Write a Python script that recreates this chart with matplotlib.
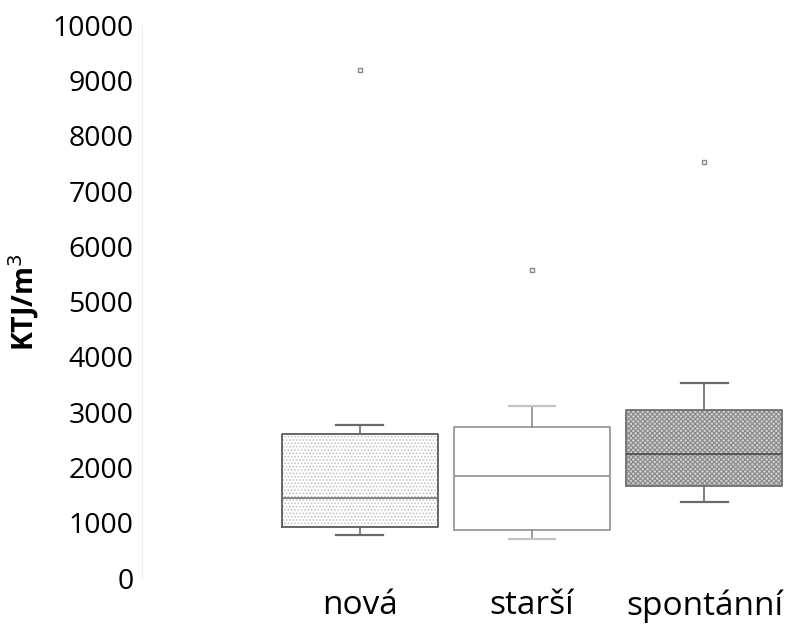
import matplotlib.pyplot as plt

# Box statistics (KTJ/m3)
categories = ['nová', 'starší', 'spontánní']
q1 = [920, 870, 1665]
medians = [1445, 1845, 2245]
q3 = [2605, 2730, 3040]
whisker_low = [780, 705, 1375]
whisker_high = [2770, 3110, 3530]
outliers = [[9190], [5570], [7530]]

y_ticks = [0, 1000, 2000, 3000, 4000, 5000, 6000, 7000, 8000, 9000, 10000]

face_colors = ['white', 'white', '#cfcfcf']
hatches = ['.....', None, 'xxxxxxx']
hatch_colors = ['#c4c4c4', 'white', '#8a8a8a']
edge_colors = ['#5a5a5a', '#9a9a9a', '#707070']
median_colors = ['#7a7a7a', '#9a9a9a', '#505050']
whisker_colors = ['#6a6a6a', '#8a8a8a', '#6a6a6a']
cap_colors = ['#6a6a6a', '#c4c4c4', '#6a6a6a']

stats = []
for i, name in enumerate(categories):
    stats.append({'label': name, 'q1': q1[i], 'med': medians[i], 'q3': q3[i],
                  'whislo': whisker_low[i], 'whishi': whisker_high[i],
                  'fliers': outliers[i]})

plt.rcParams['font.family'] = ['Open Sans', 'DejaVu Sans']
plt.rcParams['hatch.linewidth'] = 0.8

fig = plt.figure(figsize=(8.06, 6.29), dpi=100)
ax = fig.add_axes([0.176, 0.081, 0.805, 0.879])

positions = [1, 2, 3]

# fills with hatching
fill = ax.bxp(stats, positions=positions, widths=0.905, patch_artist=True,
              showfliers=False, showcaps=False,
              whiskerprops=dict(linewidth=0), medianprops=dict(linewidth=0))
for i, box in enumerate(fill['boxes']):
    box.set_facecolor(face_colors[i])
    box.set_edgecolor(hatch_colors[i])
    box.set_linewidth(0)
    if hatches[i]:
        box.set_hatch(hatches[i])

# outlines, whiskers, medians and outliers
lines = ax.bxp(stats, positions=positions, widths=0.905, capwidths=0.27,
               flierprops=dict(marker='s', markersize=3, markerfacecolor='white',
                               markeredgecolor='#888888', markeredgewidth=1))
for i in range(3):
    lines['boxes'][i].set_color(edge_colors[i])
    lines['boxes'][i].set_linewidth(1.3)
    lines['medians'][i].set_color(median_colors[i])
    lines['medians'][i].set_linewidth(1.3)
    for w in lines['whiskers'][2 * i:2 * i + 2]:
        w.set_color(whisker_colors[i])
        w.set_linewidth(1.2)
    for c in lines['caps'][2 * i:2 * i + 2]:
        c.set_color(cap_colors[i])
        c.set_linewidth(1.6)

ax.set_xlim(1 - 1.264, 3.5)
ax.set_ylim(0, 10000)
ax.set_yticks(y_ticks)
ax.set_yticklabels([str(t) for t in y_ticks], fontsize=20.5)
ax.set_xticks(positions)
ax.set_xticklabels(categories, fontsize=24)
ax.tick_params(axis='both', length=0)
ax.tick_params(axis='x', pad=8)
ax.tick_params(axis='y', pad=6)

for side in ['top', 'right', 'bottom']:
    ax.spines[side].set_visible(False)
ax.spines['left'].set_color('#eeeeee')

ax.set_ylabel('KTJ/m$^3$', fontsize=20.5, fontweight='bold')
ax.yaxis.set_label_coords(-0.155, 0.5)

fig.savefig('out.png', dpi=100)
